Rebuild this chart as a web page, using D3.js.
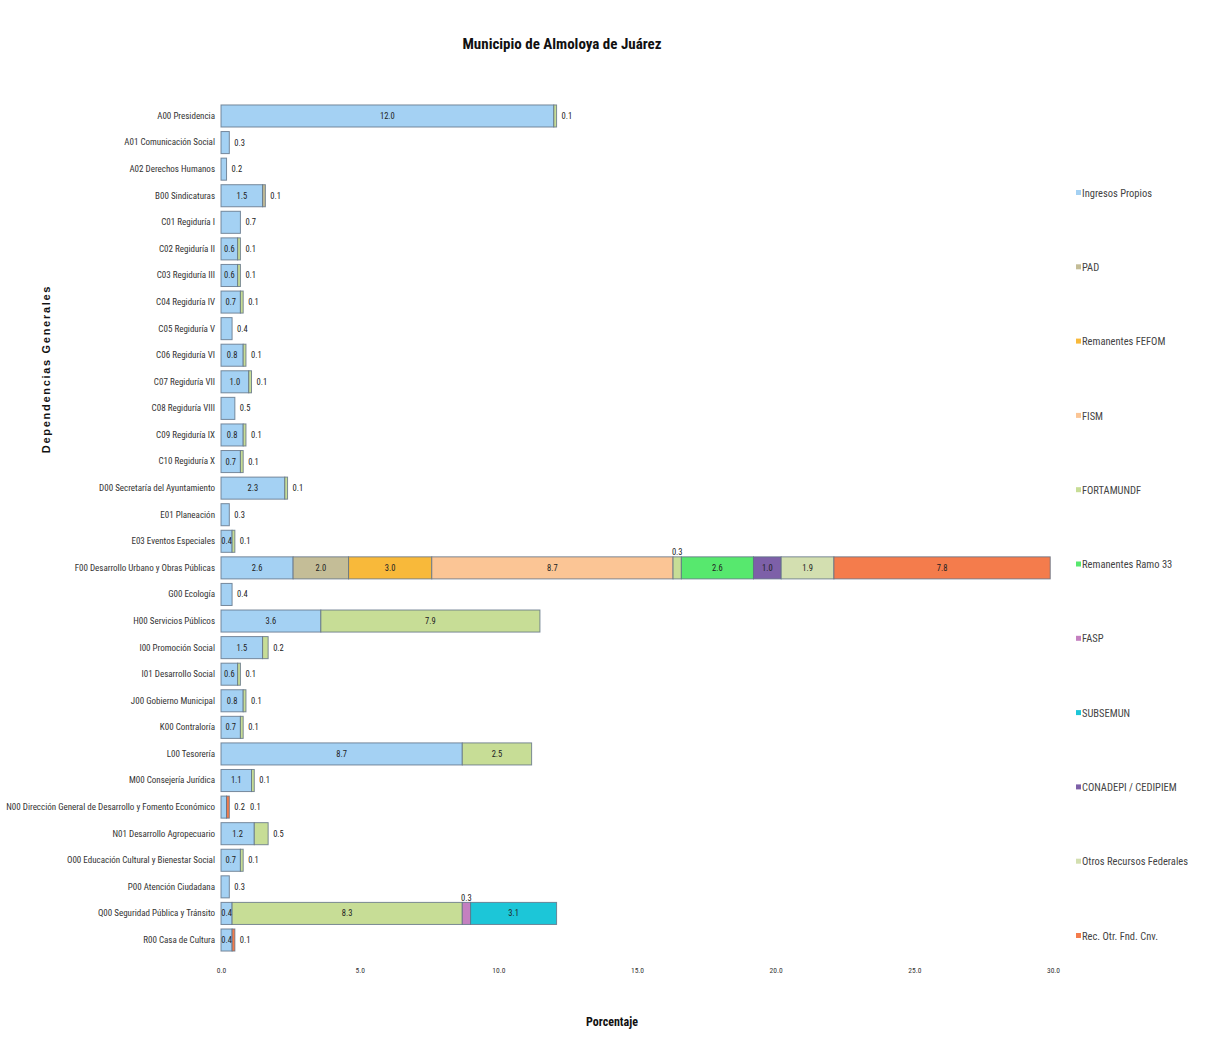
<!DOCTYPE html>
<html>
<head>
<meta charset="utf-8">
<script src="https://cdn.jsdelivr.net/npm/d3@7"></script>
<style>
  html, body { margin: 0; padding: 0; background: #ffffff; }
  svg { display: block; }
</style>
</head>
<body>
<svg id="chart" width="1225" height="1046"></svg>
<script>
// Dependencias (top to bottom)
const categories = [
  "A00 Presidencia",
  "A01 Comunicación Social",
  "A02 Derechos Humanos",
  "B00 Sindicaturas",
  "C01 Regiduría I",
  "C02 Regiduría II",
  "C03 Regiduría III",
  "C04 Regiduría IV",
  "C05 Regiduría V",
  "C06 Regiduría VI",
  "C07 Regiduría VII",
  "C08 Regiduría VIII",
  "C09 Regiduría IX",
  "C10 Regiduría X",
  "D00 Secretaría del Ayuntamiento",
  "E01 Planeación",
  "E03 Eventos Especiales",
  "F00 Desarrollo Urbano y Obras Públicas",
  "G00 Ecología",
  "H00 Servicios Públicos",
  "I00 Promoción Social",
  "I01 Desarrollo Social",
  "J00 Gobierno Municipal",
  "K00 Contraloría",
  "L00 Tesorería",
  "M00 Consejería Jurídica",
  "N00 Dirección General de Desarrollo y Fomento Económico",
  "N01 Desarrollo Agropecuario",
  "O00 Educación Cultural y Bienestar Social",
  "P00 Atención Ciudadana",
  "Q00 Seguridad Pública y Tránsito",
  "R00 Casa de Cultura"
];

// Fuentes de financiamiento (stacking and legend order)
const seriesNames = [
  "Ingresos Propios",
  "PAD",
  "Remanentes FEFOM",
  "FISM",
  "FORTAMUNDF",
  "Remanentes Ramo 33",
  "FASP",
  "SUBSEMUN",
  "CONADEPI / CEDIPIEM",
  "Otros Recursos Federales",
  "Rec. Otr. Fnd. Cnv."
];

// Percentage of the budget per dependencia, one array per source
const ingresosPropios = [12.0, 0.3, 0.2, 1.5, 0.7, 0.6, 0.6, 0.7, 0.4, 0.8, 1.0, 0.5, 0.8, 0.7, 2.3, 0.3,
                         0.4, 2.6, 0.4, 3.6, 1.5, 0.6, 0.8, 0.7, 8.7, 1.1, 0.2, 1.2, 0.7, 0.3, 0.4, 0.4];
const pad             = [0, 0, 0, 0.1, 0, 0, 0, 0, 0, 0, 0, 0, 0, 0, 0, 0,
                         0, 2.0, 0, 0, 0, 0, 0, 0, 0, 0, 0, 0, 0, 0, 0, 0];
const remanentesFefom = [0, 0, 0, 0, 0, 0, 0, 0, 0, 0, 0, 0, 0, 0, 0, 0,
                         0, 3.0, 0, 0, 0, 0, 0, 0, 0, 0, 0, 0, 0, 0, 0, 0];
const fism            = [0, 0, 0, 0, 0, 0, 0, 0, 0, 0, 0, 0, 0, 0, 0, 0,
                         0, 8.7, 0, 0, 0, 0, 0, 0, 0, 0, 0, 0, 0, 0, 0, 0];
const fortamundf      = [0.1, 0, 0, 0, 0, 0.1, 0.1, 0.1, 0, 0.1, 0.1, 0, 0.1, 0.1, 0.1, 0,
                         0.1, 0.3, 0, 7.9, 0.2, 0.1, 0.1, 0.1, 2.5, 0.1, 0, 0.5, 0.1, 0, 8.3, 0];
const remanentesRamo33 = [0, 0, 0, 0, 0, 0, 0, 0, 0, 0, 0, 0, 0, 0, 0, 0,
                         0, 2.6, 0, 0, 0, 0, 0, 0, 0, 0, 0, 0, 0, 0, 0, 0];
const fasp            = [0, 0, 0, 0, 0, 0, 0, 0, 0, 0, 0, 0, 0, 0, 0, 0,
                         0, 0, 0, 0, 0, 0, 0, 0, 0, 0, 0, 0, 0, 0, 0.3, 0];
const subsemun        = [0, 0, 0, 0, 0, 0, 0, 0, 0, 0, 0, 0, 0, 0, 0, 0,
                         0, 0, 0, 0, 0, 0, 0, 0, 0, 0, 0, 0, 0, 0, 3.1, 0];
const conadepi        = [0, 0, 0, 0, 0, 0, 0, 0, 0, 0, 0, 0, 0, 0, 0, 0,
                         0, 1.0, 0, 0, 0, 0, 0, 0, 0, 0, 0, 0, 0, 0, 0, 0];
const otrosFederales  = [0, 0, 0, 0, 0, 0, 0, 0, 0, 0, 0, 0, 0, 0, 0, 0,
                         0, 1.9, 0, 0, 0, 0, 0, 0, 0, 0, 0, 0, 0, 0, 0, 0];
const recOtrFndCnv    = [0, 0, 0, 0, 0, 0, 0, 0, 0, 0, 0, 0, 0, 0, 0, 0,
                         0, 7.8, 0, 0, 0, 0, 0, 0, 0, 0, 0.1, 0, 0, 0, 0, 0.1];

const xTicks = [0, 5, 10, 15, 20, 25, 30];

const seriesValues = [ingresosPropios, pad, remanentesFefom, fism, fortamundf, remanentesRamo33,
                      fasp, subsemun, conadepi, otrosFederales, recOtrFndCnv];

const seriesColors = ["#a4d1f3", "#c4bd97", "#f8b93a", "#fbc595", "#c7dd96", "#57e86e",
                      "#c480c0", "#1cc6d8", "#7d60a8", "#d3dfb0", "#f47c4c"];

// Row table built for d3.stack
const rows = categories.map((c, i) => {
  const r = { category: c };
  seriesNames.forEach((s, k) => { r[s] = seriesValues[k][i]; });
  return r;
});

const svg = d3.select("#chart");
const NARROW = '"Liberation Sans Narrow", "Arial Narrow", "Roboto Condensed", "Liberation Sans", sans-serif';

const x = d3.scaleLinear().domain([0, 30]).range([221, 1053]);
const y = d3.scaleBand().domain(categories).range([102.7, 953.3])
  .paddingInner(0.17).paddingOuter(0.085);
const color = d3.scaleOrdinal().domain(seriesNames).range(seriesColors);

const stacked = d3.stack().keys(seriesNames)(rows);
const fmt = d3.format(".1f");

// Title
svg.append("text")
  .attr("x", 562).attr("y", 49)
  .attr("text-anchor", "middle")
  .style("font-family", NARROW).style("font-weight", "bold").style("font-size", "15px")
  .attr("fill", "#111")
  .text("Municipio de Almoloya de Juárez");

// Bars
const barLayer = svg.append("g");
stacked.forEach(layer => {
  barLayer.append("g")
    .attr("fill", color(layer.key))
    .selectAll("rect")
    .data(layer.filter(d => d[1] - d[0] > 0))
    .join("rect")
    .attr("x", d => x(d[0]))
    .attr("y", d => y(d.data.category))
    .attr("width", d => x(d[1]) - x(d[0]))
    .attr("height", y.bandwidth())
    .attr("stroke", "#5f7184")
    .attr("stroke-opacity", 0.8)
    .attr("stroke-width", 1);
});

// Value labels: inside wide segments, beside the bar end for narrow ones,
// above a narrow segment that sits inside a long bar
const labelLayer = svg.append("g")
  .style("font-family", NARROW).style("font-size", "8.5px").attr("fill", "#222");
rows.forEach((row, i) => {
  const segs = stacked
    .map(layer => ({ key: layer.key, x0: layer[i][0], x1: layer[i][1] }))
    .filter(s => s.x1 - s.x0 > 0);
  const total = segs.length ? segs[segs.length - 1].x1 : 0;
  const cy = y(row.category) + y.bandwidth() / 2;
  let outX = x(total) + 5;
  segs.forEach((s, j) => {
    const w = x(s.x1) - x(s.x0);
    const txt = fmt(s.x1 - s.x0);
    const isLast = j === segs.length - 1;
    const single = segs.length === 1;
    const inside = single ? w >= 25 : (w >= 15 || (!isLast && w >= 10));
    if (inside) {
      labelLayer.append("text")
        .attr("x", (x(s.x0) + x(s.x1)) / 2).attr("y", cy)
        .attr("dy", "0.35em").attr("text-anchor", "middle").text(txt);
    } else if (!isLast && total > 5) {
      labelLayer.append("text")
        .attr("x", (x(s.x0) + x(s.x1)) / 2).attr("y", y(row.category) - 1.5)
        .attr("text-anchor", "middle").text(txt);
    } else {
      const t = labelLayer.append("text")
        .attr("x", outX).attr("y", cy).attr("dy", "0.35em").text(txt);
      outX += t.node().getComputedTextLength() + 5;
    }
  });
});

// Category axis
const yAxis = svg.append("g")
  .attr("transform", "translate(221,0)")
  .call(d3.axisLeft(y).tickSize(0).tickPadding(6));
yAxis.select(".domain").remove();
yAxis.selectAll("text")
  .style("font-family", NARROW).style("font-size", "9px").attr("fill", "#333");

// Value axis
const xAxis = svg.append("g")
  .attr("transform", "translate(0,962)")
  .call(d3.axisBottom(x).tickValues(xTicks).tickFormat(fmt).tickSize(0).tickPadding(6));
xAxis.select(".domain").remove();
xAxis.selectAll("text")
  .style("font-family", NARROW).style("font-size", "7.5px").attr("fill", "#333");

// Axis titles
svg.append("text")
  .attr("transform", "translate(50,369) rotate(-90)")
  .attr("text-anchor", "middle")
  .style("font-family", '"Liberation Sans", Arial, sans-serif')
  .style("font-weight", "bold").style("font-size", "11px").style("letter-spacing", "1.7px")
  .attr("fill", "#111")
  .text("Dependencias Generales");

svg.append("text")
  .attr("x", 612).attr("y", 1026)
  .attr("text-anchor", "middle")
  .style("font-family", NARROW).style("font-weight", "bold").style("font-size", "12px")
  .attr("fill", "#111")
  .text("Porcentaje");

// Legend
const legend = svg.append("g").attr("transform", "translate(1076,0)");
const legendStep = 74.3;
const legendItems = legend.selectAll("g")
  .data(seriesNames)
  .join("g")
  .attr("transform", (d, i) => `translate(0,${193 + i * legendStep})`);
legendItems.append("rect")
  .attr("x", 0).attr("y", -3).attr("width", 5).attr("height", 5)
  .attr("fill", d => color(d));
legendItems.append("text")
  .attr("x", 6).attr("y", 0).attr("dy", "0.35em")
  .style("font-family", NARROW).style("font-size", "10.5px").attr("fill", "#444")
  .text(d => d);
</script>
</body>
</html>
